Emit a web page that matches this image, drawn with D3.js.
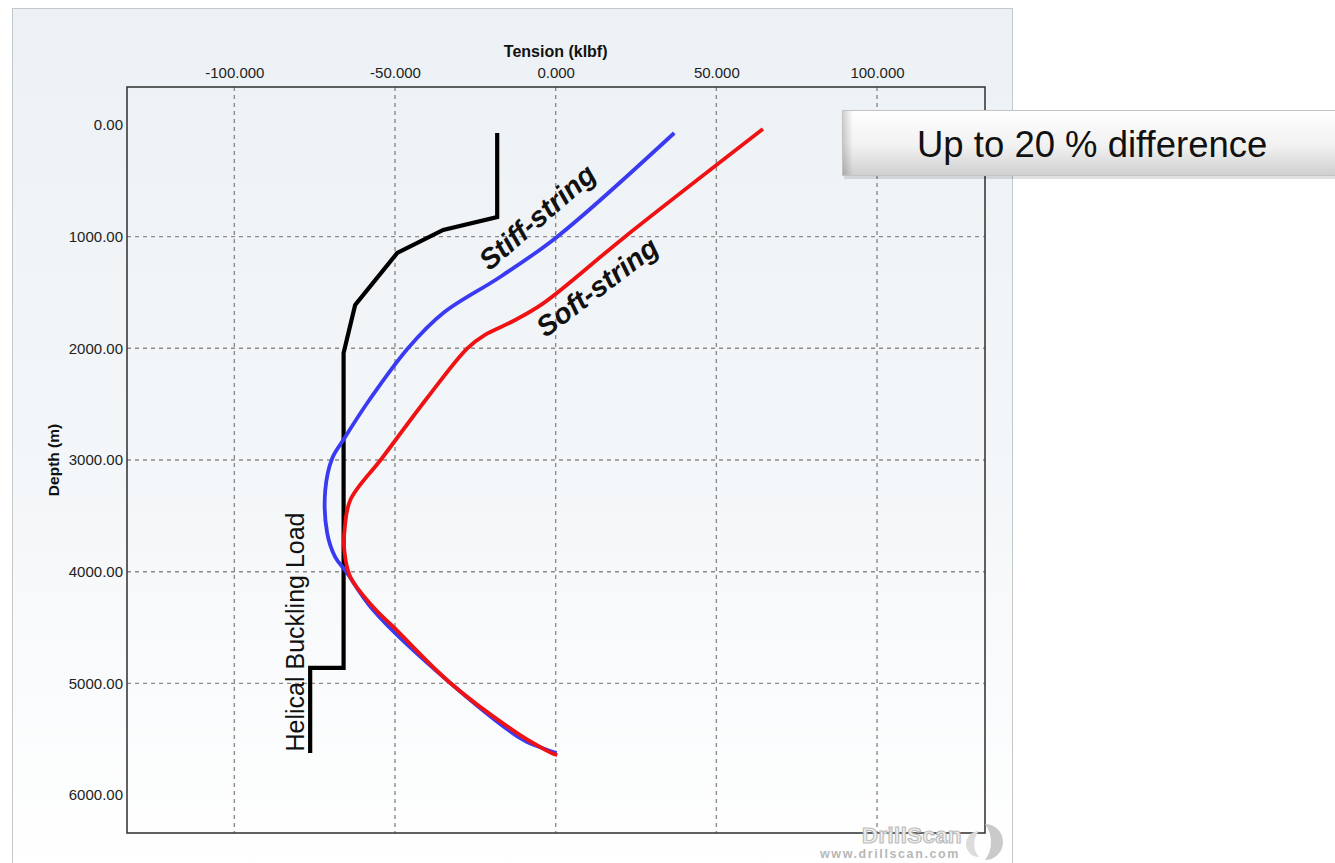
<!DOCTYPE html>
<html>
<head>
<meta charset="utf-8">
<script src="https://cdn.jsdelivr.net/npm/d3@7/dist/d3.min.js"></script>
<style>
  body { margin: 0; background: #ffffff; }
  svg { display: block; }
  text { font-family: "Liberation Sans", Arial, sans-serif; }
</style>
</head>
<body>
<svg id="chart" width="1335" height="863"></svg>
<script>
// ---------------- data ----------------
const xTicks = [-100, -50, 0, 50, 100];
const yTicks = [0, 1000, 2000, 3000, 4000, 5000, 6000];
const yGridTicks = [1000, 2000, 3000, 4000, 5000];

const xTitle = "Tension (klbf)";
const yTitle = "Depth (m)";

// Helical buckling load (black)
const bucklingDepth   = [72, 824, 940, 1146, 1612, 2042, 4862, 4862, 5624];
const bucklingTension = [-18.2, -18.2, -35.0, -49.3, -62.4, -66.0, -66.0, -76.4, -76.4];

// Stiff-string model (blue)
const stiffDepth   = [72, 1000, 1361, 1684, 1997, 2463, 2821, 2982, 3269, 3654, 3869, 4000, 4343, 4997, 5507, 5585, 5612, 5622];
const stiffTension = [36.9, 0.5, -17.3, -35.0, -45.9, -58.0, -66.1, -69.5, -71.7, -71.1, -68.6, -65.2, -56.8, -32.8, -10.1, -3.6, -1.0, 0.3];

// Soft-string model (red)
const softDepth   = [36, 1000, 1600, 1760, 1880, 2000, 2445, 2982, 3358, 3600, 3800, 4048, 4316, 4495, 4997, 5445, 5575, 5625, 5642];
const softTension = [64.5, 21.6, -4.0, -13.5, -22.0, -27.5, -40.0, -54.0, -63.9, -65.6, -65.8, -63.9, -56.8, -50.5, -32.8, -12.0, -4.5, -1.2, 0.5];

// annotations
const curveLabels = [
  { text: "Stiff-string", t: -5.8, d: 824, angle: -41 },
  { text: "Soft-string",  t: 12.9, d: 1450, angle: -37 }
];
const bucklingLabel = { text: "Helical Buckling Load", t: -81.0, d: 4540 };
const calloutText = "Up to 20 % difference";

// ---------------- layout ----------------
const svg = d3.select("#chart");
const plot = { left: 127, top: 87, right: 985, bottom: 833 };

const x = d3.scaleLinear().domain([-133.4, 133.6]).range([plot.left, plot.right]);
const y = d3.scaleLinear().domain([-340, 6340]).range([plot.top, plot.bottom]);

const hyphen = f => d => f(d).replace("\u2212", "-");

const defs = svg.append("defs");
const bg = defs.append("linearGradient").attr("id", "panelGrad")
  .attr("x1", 0).attr("y1", 0).attr("x2", 0).attr("y2", 1);
bg.append("stop").attr("offset", "0%").attr("stop-color", "#ecf1f5");
bg.append("stop").attr("offset", "55%").attr("stop-color", "#f4f7f9");
bg.append("stop").attr("offset", "100%").attr("stop-color", "#ffffff");

const boxGrad = defs.append("linearGradient").attr("id", "boxGrad")
  .attr("x1", 0).attr("y1", 0).attr("x2", 0).attr("y2", 1);
boxGrad.append("stop").attr("offset", "0%").attr("stop-color", "#ffffff");
boxGrad.append("stop").attr("offset", "55%").attr("stop-color", "#f1f1f1");
boxGrad.append("stop").attr("offset", "100%").attr("stop-color", "#cfcfcf");

const boxSide = defs.append("linearGradient").attr("id", "boxSide")
  .attr("x1", 0).attr("y1", 0).attr("x2", 1).attr("y2", 0);
boxSide.append("stop").attr("offset", "0%").attr("stop-color", "#000").attr("stop-opacity", 0.18);
boxSide.append("stop").attr("offset", "100%").attr("stop-color", "#000").attr("stop-opacity", 0);

// panel
svg.append("rect").attr("x", 12.5).attr("y", 8.5).attr("width", 1000).attr("height", 870)
  .attr("fill", "url(#panelGrad)").attr("stroke", "#c4c8cb").attr("stroke-width", 1);

// grid
const grid = svg.append("g");
grid.selectAll("line.vx").data(xTicks).join("line")
  .attr("x1", d => x(d)).attr("x2", d => x(d))
  .attr("y1", plot.top).attr("y2", plot.bottom)
  .attr("stroke", "#8c8c8c").attr("stroke-width", 1.4).attr("stroke-dasharray", "4,4");
grid.selectAll("line.hy").data(yGridTicks).join("line")
  .attr("x1", plot.left).attr("x2", plot.right)
  .attr("y1", d => y(d)).attr("y2", d => y(d))
  .attr("stroke", "#8c8c8c").attr("stroke-width", 1.4).attr("stroke-dasharray", "4,4");

// axes
const xAxis = svg.append("g").attr("transform", `translate(0,${plot.top})`)
  .call(d3.axisTop(x).tickValues(xTicks).tickFormat(hyphen(d3.format(".3f"))).tickSize(0).tickPadding(9));
const yAxis = svg.append("g").attr("transform", `translate(${plot.left},0)`)
  .call(d3.axisLeft(y).tickValues(yTicks).tickFormat(hyphen(d3.format(".2f"))).tickSize(0).tickPadding(4));
[xAxis, yAxis].forEach(a => {
  a.select(".domain").remove();
  a.selectAll("text").attr("font-size", 15).attr("fill", "#222")
    .attr("font-family", "'Liberation Sans', Arial, sans-serif");
});

// titles
svg.append("text").attr("x", x(0)).attr("y", 57).attr("text-anchor", "middle")
  .attr("font-size", 16).attr("font-weight", "bold").attr("fill", "#111").text(xTitle);
svg.append("text").attr("transform", `translate(59,${y(3000)}) rotate(-90)`)
  .attr("text-anchor", "middle").attr("font-size", 15.5).attr("font-weight", "bold")
  .attr("fill", "#111").text(yTitle);

// lines
const lineGen = (curve) => d3.line().x(d => x(d[0])).y(d => y(d[1])).curve(curve);
const zip = (a, b) => a.map((v, i) => [v, b[i]]);

svg.append("path").datum(zip(bucklingTension, bucklingDepth))
  .attr("d", lineGen(d3.curveLinear)).attr("fill", "none")
  .attr("stroke", "#000").attr("stroke-width", 4.2).attr("stroke-linejoin", "miter");
svg.append("path").datum(zip(stiffTension, stiffDepth))
  .attr("d", lineGen(d3.curveCatmullRom.alpha(0.5))).attr("fill", "none")
  .attr("stroke", "#3a3af2").attr("stroke-width", 3.8).attr("stroke-linecap", "butt");
svg.append("path").datum(zip(softTension, softDepth))
  .attr("d", lineGen(d3.curveCatmullRom.alpha(0.5))).attr("fill", "none")
  .attr("stroke", "#f01212").attr("stroke-width", 3.8).attr("stroke-linecap", "butt");

// plot frame
svg.append("rect").attr("x", plot.left).attr("y", plot.top)
  .attr("width", plot.right - plot.left).attr("height", plot.bottom - plot.top)
  .attr("fill", "none").attr("stroke", "#3a3a3a").attr("stroke-width", 1.6);

// curve labels
svg.selectAll("text.curveLabel").data(curveLabels).join("text")
  .attr("class", "curveLabel")
  .attr("transform", d => `translate(${x(d.t)},${y(d.d)}) rotate(${d.angle})`)
  .attr("text-anchor", "middle").attr("dominant-baseline", "central")
  .attr("font-size", 28.5).attr("font-weight", "bold").attr("font-style", "italic")
  .attr("fill", "#111").text(d => d.text);

svg.append("text")
  .attr("transform", `translate(${x(bucklingLabel.t)},${y(bucklingLabel.d)}) rotate(-90)`)
  .attr("text-anchor", "middle").attr("dominant-baseline", "central")
  .attr("font-size", 25).attr("fill", "#111").text(bucklingLabel.text);

// logo (watermark)
const logo = svg.append("g");
logo.append("text").attr("x", 912).attr("y", 843).attr("text-anchor", "middle")
  .attr("font-size", 22).attr("font-weight", "bold").attr("fill", "#f2f2f2")
  .attr("stroke", "#bdbdbd").attr("stroke-width", 1.2).attr("letter-spacing", 0.5).text("DrillScan");
logo.append("text").attr("x", 890).attr("y", 858).attr("text-anchor", "middle")
  .attr("font-size", 12.5).attr("font-weight", "bold").attr("fill", "#b8b8b8")
  .attr("letter-spacing", 1.6).text("www.drillscan.com");
logo.append("path").attr("d", "M985,824 A18,18 0 0 1 985,860 A30,30 0 0 0 985,824 Z").attr("fill", "#cacaca");
logo.append("path").attr("d", "M979,831 A13,13 0 0 0 979,857 A20,20 0 0 1 979,831 Z").attr("fill", "#dcdcdc");

// callout box
const box = svg.append("g");
box.append("rect").attr("x", 844).attr("y", 113).attr("width", 500).attr("height", 66)
  .attr("fill", "#000").attr("opacity", 0.12);
box.append("rect").attr("x", 842.5).attr("y", 110.5).attr("width", 500).attr("height", 65)
  .attr("fill", "url(#boxGrad)").attr("stroke", "#c3c3c3").attr("stroke-width", 1);
box.append("rect").attr("x", 843).attr("y", 111).attr("width", 10).attr("height", 64)
  .attr("fill", "url(#boxSide)");
box.append("text").attr("x", 917).attr("y", 157).attr("font-size", 36.5)
  .attr("fill", "#111").text(calloutText);
</script>
</body>
</html>
